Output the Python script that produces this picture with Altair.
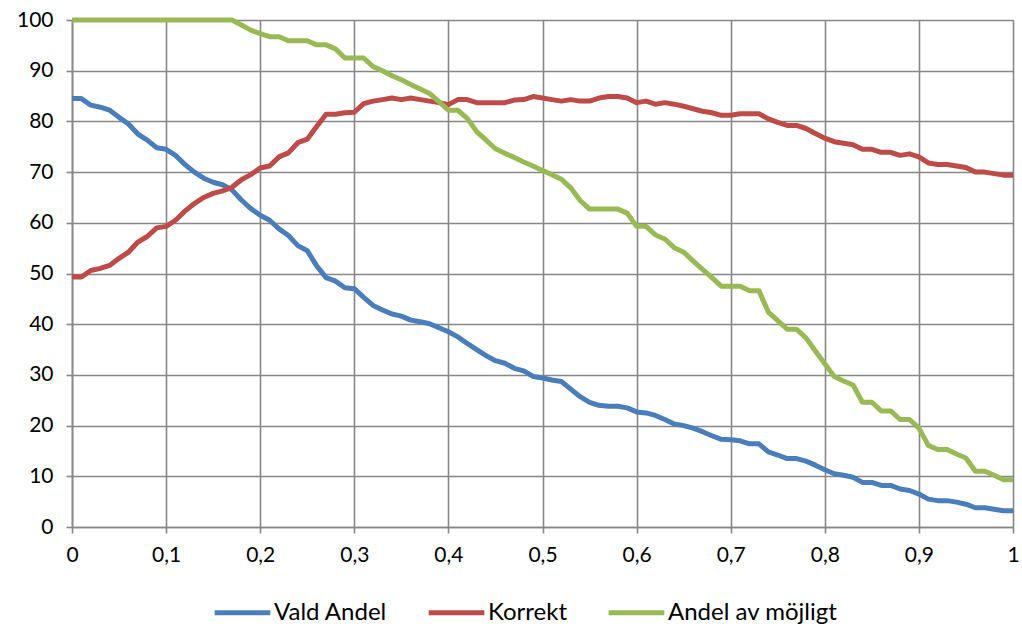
import altair as alt
import pandas as pd

# Threshold values 0.00 .. 1.00 in steps of 0.01
x_vals = [round(i * 0.01, 2) for i in range(101)]

vald_andel = [
    84.5, 84.5, 83.2, 82.8, 82.2, 80.8, 79.5, 77.5, 76.3, 74.8,
    74.5, 73.3, 71.5, 70.0, 68.8, 68.0, 67.5, 66.5, 64.5, 62.8,
    61.5, 60.5, 58.8, 57.5, 55.5, 54.5, 51.5, 49.2, 48.5, 47.2,
    47.0, 45.3, 43.7, 42.8, 42.0, 41.6, 40.8, 40.5, 40.1, 39.3,
    38.5, 37.5, 36.2, 35.0, 33.8, 32.8, 32.3, 31.3, 30.8, 29.7,
    29.4, 29.0, 28.7, 27.2, 25.7, 24.6, 24.0, 23.8, 23.8, 23.5,
    22.7, 22.5, 22.0, 21.2, 20.3, 20.0, 19.5, 18.8, 18.0, 17.3,
    17.2, 17.0, 16.4, 16.4, 14.8, 14.2, 13.5, 13.5, 13.0, 12.2,
    11.3, 10.5, 10.2, 9.8, 8.8, 8.8, 8.2, 8.2, 7.5, 7.2,
    6.5, 5.5, 5.2, 5.2, 4.9, 4.5, 3.8, 3.8, 3.5, 3.2,
    3.2,
]

korrekt = [
    49.3, 49.3, 50.6, 51.0, 51.6, 53.0, 54.2, 56.2, 57.3, 59.0,
    59.3, 60.5, 62.3, 63.8, 65.0, 65.8, 66.3, 67.0, 68.5, 69.5,
    70.8, 71.2, 73.0, 73.8, 75.8, 76.5, 79.0, 81.4, 81.4, 81.7,
    81.8, 83.5, 84.0, 84.3, 84.6, 84.3, 84.6, 84.3, 84.0, 83.7,
    83.3, 84.3, 84.3, 83.7, 83.7, 83.7, 83.7, 84.2, 84.3, 84.9,
    84.6, 84.3, 84.0, 84.3, 84.0, 84.0, 84.6, 84.9, 84.9, 84.6,
    83.7, 84.0, 83.4, 83.7, 83.4, 83.0, 82.5, 82.0, 81.7, 81.2,
    81.2, 81.5, 81.5, 81.5, 80.5, 79.8, 79.2, 79.2, 78.6, 77.6,
    76.7, 76.0, 75.7, 75.4, 74.5, 74.5, 73.9, 73.9, 73.3, 73.6,
    73.0, 71.8, 71.5, 71.5, 71.2, 70.9, 70.0, 70.0, 69.7, 69.4,
    69.4,
]

andel_av_mojligt = [
    100, 100, 100, 100, 100, 100, 100, 100, 100, 100,
    100, 100, 100, 100, 100, 100, 100, 100, 99.0, 98.0,
    97.3, 96.7, 96.7, 95.9, 95.9, 95.9, 95.1, 95.1, 94.3, 92.5,
    92.5, 92.5, 90.8, 90.0, 89.0, 88.2, 87.3, 86.4, 85.5, 83.9,
    82.2, 82.2, 80.6, 78.0, 76.3, 74.6, 73.7, 72.9, 72.0, 71.2,
    70.3, 69.5, 68.6, 66.9, 64.4, 62.7, 62.7, 62.7, 62.7, 61.9,
    59.3, 59.3, 57.6, 56.8, 55.1, 54.2, 52.5, 50.8, 49.2, 47.5,
    47.5, 47.5, 46.6, 46.6, 42.4, 40.7, 39.0, 39.0, 37.3, 34.7,
    32.2, 29.7, 28.8, 28.0, 24.6, 24.6, 22.9, 22.9, 21.2, 21.2,
    19.5, 16.1, 15.3, 15.3, 14.4, 13.6, 11.0, 11.0, 10.2, 9.3,
    9.3,
]

series_names = ["Vald Andel", "Korrekt", "Andel av möjligt"]
series_colors = ["#4a7ebb", "#be4b48", "#98b954"]

frames = []
for name, values in zip(series_names, [vald_andel, korrekt, andel_av_mojligt]):
    frames.append(pd.DataFrame({"x": x_vals, "y": values, "serie": name}))
df = pd.concat(frames, ignore_index=True)

FONT = "Lato"
GRID = "#878787"

chart = (
    alt.Chart(df)
    .mark_line(strokeWidth=5, strokeJoin="round", strokeCap="butt")
    .encode(
        x=alt.X(
            "x:Q",
            scale=alt.Scale(domain=[0, 1], nice=False, zero=False),
            axis=alt.Axis(
                title=None,
                values=[round(i * 0.1, 1) for i in range(11)],
                labelExpr="replace(format(datum.value, '.1~f'), '.', ',')",
                grid=True,
                gridColor=GRID,
                gridWidth=1.6,
                gridOpacity=1,
                domainColor=GRID,
                domainWidth=1.6,
                tickColor=GRID,
                tickWidth=1.6,
                tickSize=6,
                labelPadding=11,
                labelFont=FONT,
                labelFontSize=21,
                labelColor="#000000",
                labelFlush=False,
            ),
        ),
        y=alt.Y(
            "y:Q",
            scale=alt.Scale(domain=[0, 100], nice=False),
            axis=alt.Axis(
                title=None,
                values=list(range(0, 101, 10)),
                grid=True,
                gridColor=GRID,
                gridWidth=1.6,
                gridOpacity=1,
                domainColor=GRID,
                domainWidth=1.6,
                tickColor=GRID,
                tickWidth=1.6,
                tickSize=6,
                labelPadding=13,
                labelFont=FONT,
                labelFontSize=21,
                labelColor="#000000",
            ),
        ),
        color=alt.Color(
            "serie:N",
            scale=alt.Scale(domain=series_names, range=series_colors),
            sort=series_names,
            legend=alt.Legend(
                title=None,
                orient="none",
                direction="horizontal",
                legendX=140,
                legendY=562,
                symbolType="stroke",
                symbolStrokeWidth=5,
                symbolSize=3100,
                labelFont=FONT,
                labelFontSize=24,
                labelLimit=300,
                labelColor="#000000",
                labelOffset=1,
                columnPadding=30,
            ),
        ),
    )
    .properties(
        width=941,
        height=507,
        padding={"left": 72, "top": 20, "right": 9, "bottom": 105},
        autosize=alt.AutoSizeParams(type="none"),
    )
    .configure_view(stroke=GRID, strokeWidth=1.6)
    .configure(background="#ffffff")
)

chart.save("out.html", embed_options={"renderer": "svg", "actions": False})
